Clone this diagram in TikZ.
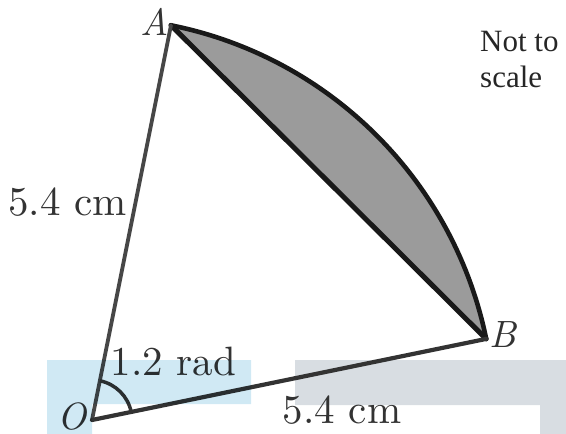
\documentclass[tikz,border=0pt]{standalone}
\usepackage{fontspec}
\usetikzlibrary{calc}
\newfontfamily\notefont{Liberation Serif}
\newfontfamily\lmten{lmroman10-regular.otf}[ItalicFont=lmroman10-italic.otf]
\definecolor{inkc}{RGB}{51,51,51}
\definecolor{shadec}{RGB}{155,155,155}
\definecolor{blueov}{RGB}{208,233,244}
\definecolor{grayov}{RGB}{216,221,226}
\begin{document}
\begin{tikzpicture}[x=1pt,y=-1pt,
  lbl/.style={inner sep=0pt,text=inkc,font=\lmten\fontsize{41}{44}\selectfont},
  vlbl/.style={inner sep=0pt,text=inkc,font=\lmten\itshape\fontsize{38}{40}\selectfont},
  note/.style={inner sep=0pt,text=black!85,font=\notefont\fontsize{31}{34}\selectfont,anchor=base west},
  side/.style={line width=4.2pt,draw=black!80,line cap=round,line join=round},
  bold/.style={line width=5pt,draw=black!90,line cap=round,line join=round}]
\useasboundingbox (0,0) rectangle (566,434);
% background gray patch
\fill[grayov] (295,360) -- (566,360) -- (566,434) -- (540,434) -- (540,405) -- (295,405) -- cycle;
\coordinate (O) at (92,420);
\coordinate (A) at (171,25.3);
\coordinate (B) at (486.2,338.9);
% shaded segment
\fill[shadec] (A) -- (B) arc[start angle=11.62,end angle=78.69,radius=402.5pt] -- cycle;
\draw[bold,line width=4.6pt] (B) arc[start angle=11.62,end angle=78.69,radius=402.5pt];
\draw[bold] (A) -- (B);
\draw[side,line width=3.8pt,draw=black!72] (O) -- (A);
\draw[side] (O) -- (B);
% angle mark
\draw[line width=3.5pt,draw=black!80] ($(O)+(11.62:40pt)$) arc[start angle=11.62,end angle=78.69,radius=40pt];
% labels
\node[vlbl] (lA) at (155,22) {A};
\node[vlbl] (lB) at (503,335) {B};
\node[vlbl] (lO) at (72,417) {O};
\node[lbl,anchor=base] (lOA) at (67.5,215) {5.4 cm};
\node[lbl,anchor=base] (lang) at (173.5,375) {1.2 rad};
\node[lbl,anchor=base] (lOB) at (342,423) {5.4 cm};
\node[note] (n1) at (480,51) {Not to};
\node[note] (n2) at (480,87) {scale};
% blue overlay
\begin{scope}[blend mode=multiply]
\fill[blueov] (47,360) -- (251,360) -- (251,404) -- (92,404) -- (92,434) -- (47,434) -- cycle;
\end{scope}
\end{tikzpicture}
\end{document}
